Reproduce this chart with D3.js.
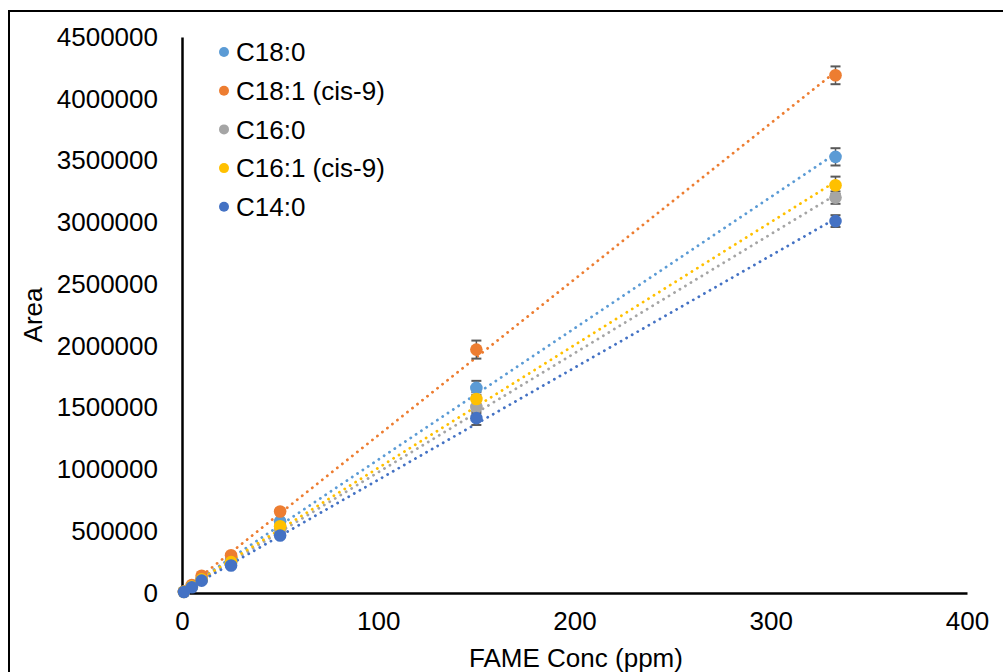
<!DOCTYPE html>
<html>
<head>
<meta charset="utf-8">
<script src="https://cdn.jsdelivr.net/npm/d3@7"></script>
<style>
  html, body { margin: 0; padding: 0; background: #fff; }
  svg { display: block; }
  text { font-family: "Liberation Sans", Arial, sans-serif; fill: #000; }
</style>
</head>
<body>
<svg id="chart" width="1003" height="672"></svg>
<script>
// ---- data ----
const concentrations = [1, 5, 10, 25, 50, 150, 333];
const seriesNames = ["C18:0", "C18:1 (cis-9)", "C16:0", "C16:1 (cis-9)", "C14:0"];
const seriesColors = ["#5B9BD5", "#ED7D31", "#A5A5A5", "#FFC000", "#4472C4"];
const areaC18_0 = [10000, 55000, 115000, 265000, 580000, 1660000, 3530000];
const areaC18_1 = [12000, 65000, 140000, 305000, 660000, 1970000, 4190000];
const areaC16_0 = [9000, 50000, 105000, 245000, 510000, 1505000, 3200000];
const areaC16_1 = [9500, 52000, 110000, 250000, 540000, 1570000, 3300000];
const areaC14_0 = [8500, 47000, 100000, 222000, 465000, 1415000, 3010000];
const errC18_0 = [2000, 5000, 8000, 12000, 20000, 57000, 70000];
const errC18_1 = [2000, 5000, 8000, 12000, 22000, 73000, 72000];
const errC16_0 = [2000, 5000, 8000, 10000, 18000, 50000, 50000];
const errC16_1 = [2000, 5000, 8000, 10000, 18000, 55000, 70000];
const errC14_0 = [2000, 5000, 8000, 10000, 16000, 55000, 48000];
const xTicks = [0, 100, 200, 300, 400];
const yTicks = [0, 500000, 1000000, 1500000, 2000000, 2500000, 3000000, 3500000, 4000000, 4500000];

const seriesValues = [areaC18_0, areaC18_1, areaC16_0, areaC16_1, areaC14_0];
const seriesErrors = [errC18_0, errC18_1, errC16_0, errC16_1, errC14_0];

const series = seriesNames.map((name, i) => ({
  name, color: seriesColors[i],
  points: concentrations.map((c, j) => ({ x: c, y: seriesValues[i][j], e: seriesErrors[i][j] }))
}));

// least-squares linear trendline from data
function fit(points) {
  const mx = d3.mean(points, p => p.x), my = d3.mean(points, p => p.y);
  let sxy = 0, sxx = 0;
  points.forEach(p => { sxy += (p.x - mx) * (p.y - my); sxx += (p.x - mx) ** 2; });
  const m = sxy / sxx;
  return { m, b: my - m * mx };
}

const FS = 26;
const svg = d3.select("#chart");

// outer frame (cropped: only top and left visible)
svg.append("path")
  .attr("d", "M9,700V11H1010")
  .attr("fill", "none").attr("stroke", "#000").attr("stroke-width", 2);

const x = d3.scaleLinear().domain([0, 400]).range([182, 967]);
const y = d3.scaleLinear().domain([0, 4500000]).range([593, 37]);

// axes
const xAxis = d3.axisBottom(x).tickValues(xTicks).tickSize(0).tickPadding(19).tickFormat(d3.format("d"));
const yAxis = d3.axisLeft(y).tickValues(yTicks).tickSize(0).tickPadding(24).tickFormat(d3.format("d"));

const gx = svg.append("g").attr("transform", "translate(0,593)").call(xAxis);
const gy = svg.append("g").attr("transform", "translate(182,0)").call(yAxis);
[gx, gy].forEach(g => {
  g.select(".domain").attr("stroke", "#000").attr("stroke-width", 2.5);
  g.selectAll("text").attr("font-size", FS).attr("font-family", "Liberation Sans, Arial, sans-serif").attr("fill", "#000");
});
gx.selectAll("text").attr("dy", "0.71em");

// axis titles
svg.append("text").attr("x", 576).attr("y", 667).attr("text-anchor", "middle")
  .attr("font-size", FS).text("FAME Conc (ppm)");
svg.append("text").attr("transform", "translate(42,315) rotate(-90)").attr("text-anchor", "middle")
  .attr("font-size", FS).text("Area");

// trendlines
series.forEach(s => {
  const f = fit(s.points);
  const x0 = 0, x1 = d3.max(s.points, p => p.x);
  svg.append("line")
    .attr("x1", x(x0)).attr("y1", y(f.m * x0 + f.b))
    .attr("x2", x(x1)).attr("y2", y(f.m * x1 + f.b))
    .attr("stroke", s.color).attr("stroke-width", 2.8)
    .attr("stroke-linecap", "round").attr("stroke-dasharray", "0.1 6.3");
});

// error bars
series.forEach(s => {
  const g = svg.append("g");
  s.points.forEach(p => {
    const cx = x(p.x), yt = y(p.y + p.e), yb = y(p.y - p.e);
    g.append("line").attr("x1", cx).attr("x2", cx).attr("y1", yt).attr("y2", yb)
      .attr("stroke", "#595959").attr("stroke-width", 1.5);
    [yt, yb].forEach(yy => g.append("line").attr("x1", cx - 5).attr("x2", cx + 5)
      .attr("y1", yy).attr("y2", yy).attr("stroke", "#595959").attr("stroke-width", 2));
  });
});

// markers
series.forEach(s => {
  svg.append("g").selectAll("circle").data(s.points).join("circle")
    .attr("cx", p => x(p.x)).attr("cy", p => y(p.y)).attr("r", 6.3)
    .attr("fill", s.color);
});

// legend
const lg = svg.append("g");
series.forEach((s, i) => {
  const yy = 52 + i * 38.7;
  lg.append("circle").attr("cx", 224).attr("cy", yy).attr("r", 5).attr("fill", s.color);
  lg.append("text").attr("x", 236).attr("y", yy).attr("dy", "0.35em")
    .attr("font-size", FS).text(s.name);
});
</script>
</body>
</html>
